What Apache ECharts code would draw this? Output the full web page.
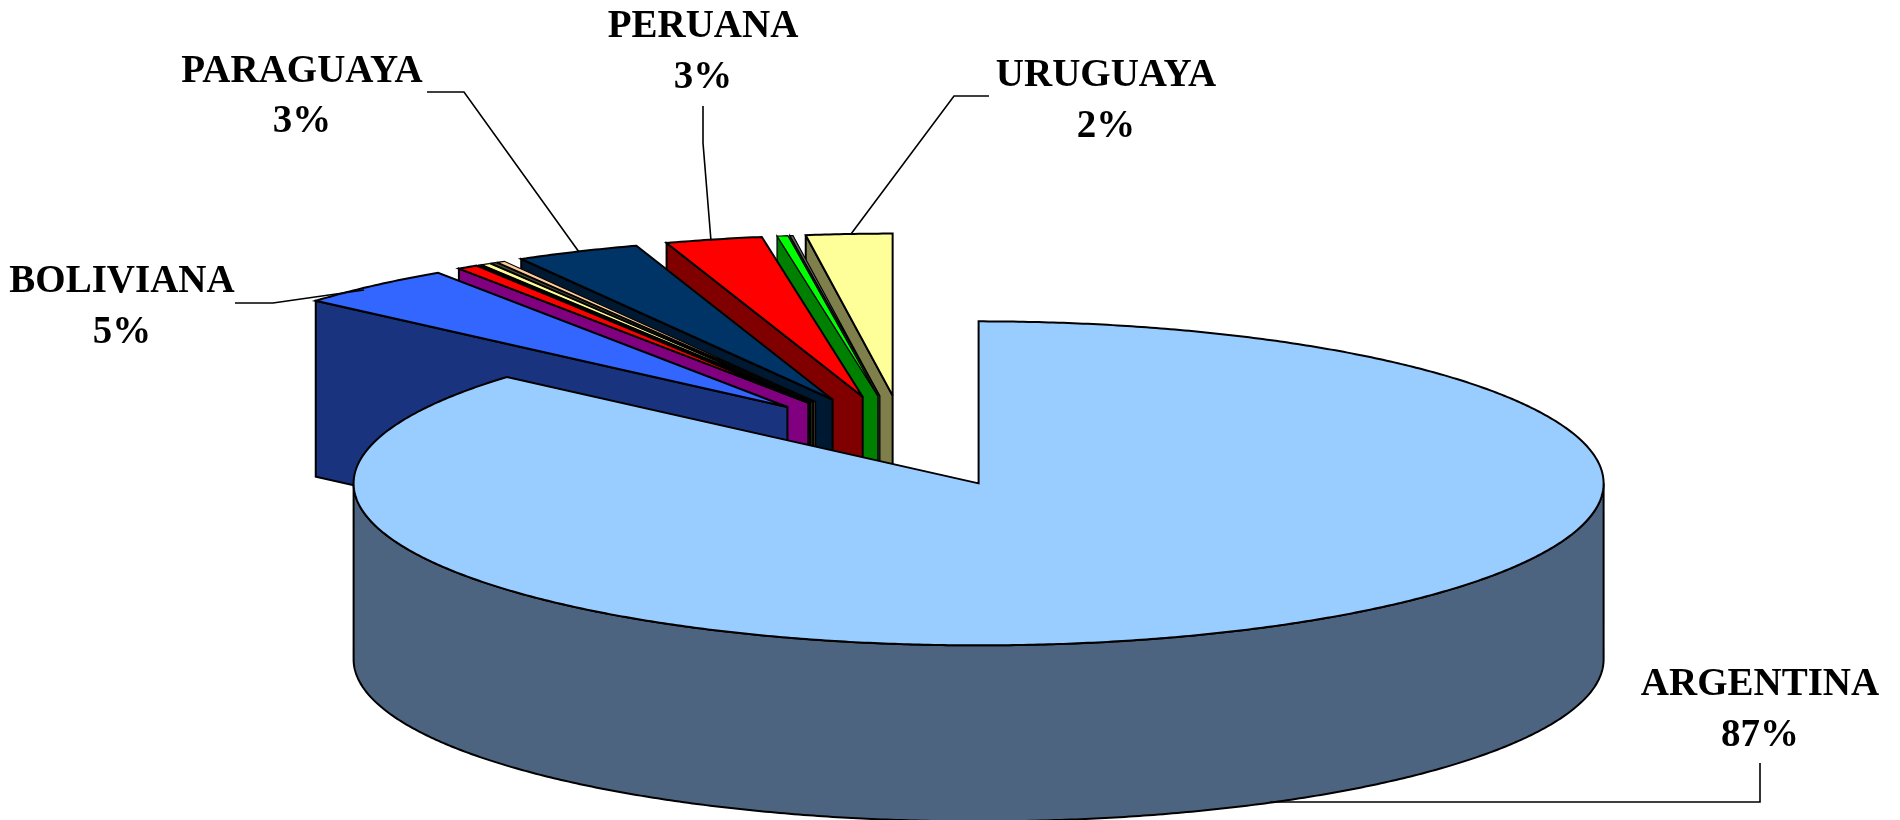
<!DOCTYPE html>
<html>
<head>
<meta charset="utf-8">
<style>html,body{margin:0;padding:0;background:#fff}#c{width:1900px;height:820px}</style>
<script src="https://cdn.jsdelivr.net/npm/echarts@6/dist/echarts.min.js"></script>
</head>
<body>
<div id="c"></div>
<script>
// ---- data: shares of the pie (percent, clockwise from 12 o'clock)
const sliceNames = ['ARGENTINA','BOLIVIANA','otra 1','otra 2','otra 3','otra 4','otra 5','PARAGUAYA','PERUANA','otra 6','otra 7','URUGUAYA'];
const sliceShares = [86.39, 4.17, 0.53, 0.05, 0.22, 0.14, 0.2, 3.22, 2.5, 0.28, 0.08, 2.22];
// ---- data: printed labels
const labelNames = ['ARGENTINA','BOLIVIANA','PARAGUAYA','PERUANA','URUGUAYA'];
const labelPercents = [87, 5, 3, 3, 2];

// ---- styles
const topColors  = ['#99CCFF','#3366FF','#FF0000','#1A1A1A','#FFFF99','#4C4C3A','#FFCC99','#003366','#FF0000','#00FF00','#666666','#FFFF99'];
const wallColors = ['#4D6480','#19337F','#800080','#000000','#7F7F4C','#000000','#7F6650','#001933','#800000','#008000','#333333','#7F7F4C'];

// ---- layout of the projected pie
const CX = 905, CY = 441.5, RX = 625, RY = 162, DEPTH = 176, EXPLODE = 0.284, LW = 2;
const THIN_LW = 1.2;
const labelLayout = [
  {x:1760, y1:684, y2:735, line:[[1760,763],[1760,802],[1270,802]]},
  {x:122,  y1:281, y2:332, line:[[235,303],[273,303],[364,290]]},
  {x:302,  y1:71,  y2:121, line:[[427,92],[464,92],[579,252]]},
  {x:703,  y1:26,  y2:77,  line:[[703,106],[703,143],[711,241]]},
  {x:1106, y1:75,  y2:126, line:[[989,96],[954,96],[851,234]]}
];

const total = sliceShares.reduce((a, b) => a + b, 0);
const rad = v => v / total * Math.PI * 2;
let acc = 0;
const starts = sliceShares.map(v => { const s = acc; acc += v; return s; });

function sliceGeom(i, value) {
  const a0 = rad(starts[i]), a1 = a0 + rad(value), mid = (a0 + a1) / 2;
  const ax = CX + EXPLODE * RX * Math.sin(mid), ay = CY - EXPLODE * RY * Math.cos(mid);
  const pt = a => [ax + RX * Math.sin(a), ay - RY * Math.cos(a)];
  return {a0, a1, ax, ay, pt};
}
function arc(pt, from, to) {
  const n = Math.max(2, Math.ceil(Math.abs(to - from) / 0.008)), out = [];
  for (let k = 0; k <= n; k++) out.push(pt(from + (to - from) * k / n));
  return out;
}

function renderSlice(params, api) {
  const i = params.dataIndex, v = api.value(0), g = sliceGeom(i, v), n = sliceShares.length;
  const base = i === 0 ? 200 : 2 * (n - i);
  const stroke = {stroke:'#000', lineWidth:v < 0.3 ? THIN_LW : LW, lineJoin:'miter', miterLimit:4};
  const children = [];
  if (i === 0) {
    const top = arc(g.pt, Math.PI / 2, Math.PI * 1.5);
    const bottom = top.map(p => [p[0], p[1] + DEPTH]).reverse();
    children.push({type:'polygon', z2:base, shape:{points:top.concat(bottom)}, style:{fill:wallColors[i], ...stroke}});
  } else {
    const s = g.pt(g.a0);
    children.push({type:'polygon', z2:base, shape:{points:[[g.ax,g.ay],s,[s[0],s[1]+DEPTH],[g.ax,g.ay+DEPTH]]}, style:{fill:wallColors[i], ...stroke}});
  }
  children.push({type:'polygon', z2:base + 1, shape:{points:[[g.ax,g.ay]].concat(arc(g.pt, g.a0, g.a1))}, style:{fill:topColors[i], ...stroke}});
  return {type:'group', children};
}

const labelFont = 'bold 39px "Liberation Serif","Times New Roman",serif';
function renderLabel(params, api) {
  const L = labelLayout[params.dataIndex];
  const txt = (t, y) => ({type:'text', x:L.x, y:y, scaleY:1.05, z2:300,
    style:{text:t, font:labelFont, fill:'#000', align:'center', verticalAlign:'middle'}});
  return {type:'group', children:[
    {type:'polyline', z2:300, shape:{points:L.line}, style:{stroke:'#000', lineWidth:1.6, fill:null}},
    txt(labelNames[params.dataIndex], L.y1),
    txt(api.value(0) + '%', L.y2)
  ]};
}

const chart = echarts.init(document.getElementById('c'), null, {renderer:'canvas', width:1900, height:820});
chart.setOption({
  animation:false,
  backgroundColor:'#fff',
  series:[
    {type:'custom', coordinateSystem:'none', silent:true, renderItem:renderSlice,
     data:sliceShares.map((v, i) => ({name:sliceNames[i], value:[v]}))},
    {type:'custom', coordinateSystem:'none', silent:true, z:5, renderItem:renderLabel,
     data:labelPercents.map((v, i) => ({name:labelNames[i], value:[v]}))}
  ]
});
</script>
</body>
</html>
